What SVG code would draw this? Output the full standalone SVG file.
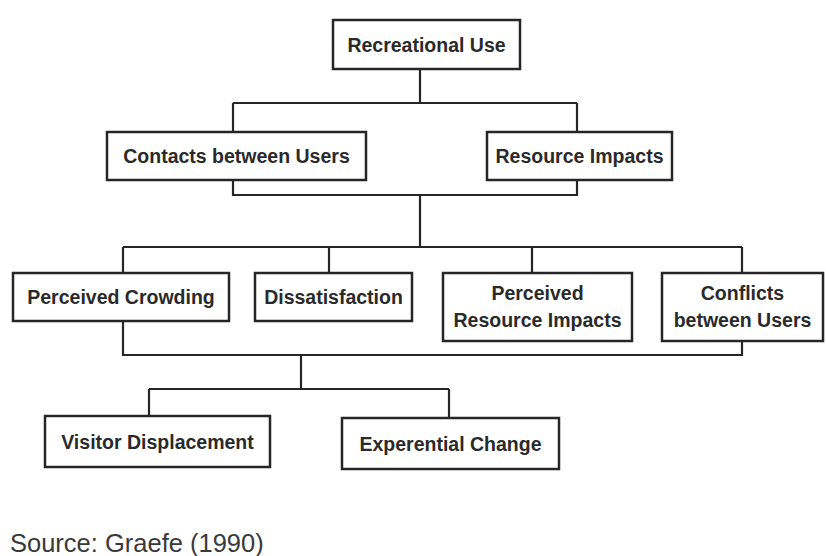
<svg xmlns="http://www.w3.org/2000/svg" width="826" height="556" viewBox="0 0 826 556">
  <style>
    .box { fill: #ffffff; stroke: #262626; stroke-width: 2.5; }
    .lbl { font-family: "Liberation Sans", Arial, sans-serif; font-weight: bold; font-size: 19.5px; fill: #2a2a2a; text-anchor: middle; }
    .wire { fill: none; stroke: #262626; stroke-width: 2.2; }
    .src { font-family: "Liberation Sans", Arial, sans-serif; font-size: 25.5px; fill: #3a3a3a; }
  </style>
  <rect width="826" height="556" fill="#ffffff"/>

  <g id="connectors">
    <path class="wire" d="M420 69 V103 M233 103 H577 M233 103 V132 M577 103 V132"/>
    <path class="wire" d="M233 180 V195 H577 V180 M420 195 V247"/>
    <path class="wire" d="M123 247 H742 M123 247 V273 M329 247 V273 M532 247 V273 M742 247 V273"/>
    <path class="wire" d="M123 321 V355 H742 V341 M301 355 V389"/>
    <path class="wire" d="M149 389 H449 M149 389 V416 M449 389 V418"/>
  </g>

  <g id="recreational-use">
    <rect class="box" x="333" y="20" width="187" height="49"/>
    <text class="lbl" x="426.5" y="51.5">Recreational Use</text>
  </g>
  <g id="contacts-between-users">
    <rect class="box" x="107" y="132" width="259" height="48"/>
    <text class="lbl" x="236.5" y="162.5">Contacts between Users</text>
  </g>
  <g id="resource-impacts">
    <rect class="box" x="487" y="132" width="185" height="48"/>
    <text class="lbl" x="579.5" y="162.5">Resource Impacts</text>
  </g>
  <g id="perceived-crowding">
    <rect class="box" x="13" y="273" width="216" height="48"/>
    <text class="lbl" x="121" y="303.5">Perceived Crowding</text>
  </g>
  <g id="dissatisfaction">
    <rect class="box" x="255" y="273" width="157" height="48"/>
    <text class="lbl" x="333.5" y="303.5">Dissatisfaction</text>
  </g>
  <g id="perceived-resource-impacts">
    <rect class="box" x="443" y="273" width="189" height="68"/>
    <text class="lbl" x="537.5" y="300">Perceived</text>
    <text class="lbl" x="537.5" y="327">Resource Impacts</text>
  </g>
  <g id="conflicts-between-users">
    <rect class="box" x="662" y="273" width="161" height="68"/>
    <text class="lbl" x="742.5" y="300">Conflicts</text>
    <text class="lbl" x="742.5" y="327">between Users</text>
  </g>
  <g id="visitor-displacement">
    <rect class="box" x="45" y="416" width="225" height="51"/>
    <text class="lbl" x="157.5" y="448.5">Visitor Displacement</text>
  </g>
  <g id="experential-change">
    <rect class="box" x="342" y="418" width="217" height="51"/>
    <text class="lbl" x="450.5" y="450.5">Experential Change</text>
  </g>

  <text class="src" x="10" y="552">Source:  Graefe (1990)</text>
</svg>
